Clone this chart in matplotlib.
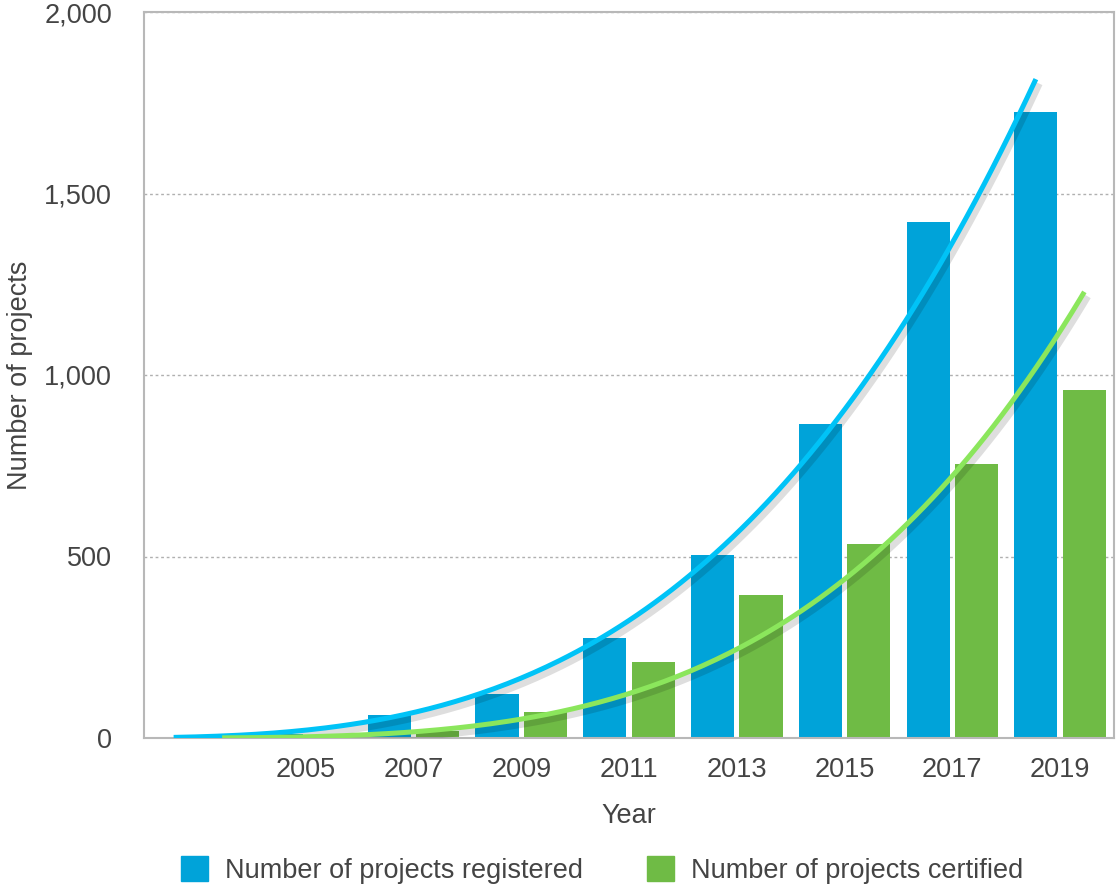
import numpy as np
import matplotlib
matplotlib.use('Agg')
import matplotlib.pyplot as plt
import matplotlib.patheffects as pe
from matplotlib.ticker import FuncFormatter, MultipleLocator
from matplotlib.patches import Patch

plt.rcParams['font.family'] = ['Liberation Sans', 'DejaVu Sans']

# yearly counts, one slot every two years
years = ['2003', '2005', '2007', '2009', '2011', '2013', '2015', '2017', '2019']
tick_labels = ['', '2005', '2007', '2009', '2011', '2013', '2015', '2017', '2019']
registered = [2, 12, 63, 121, 275, 504, 865, 1421, 1724]
certified = [0.7, 2, 19, 72, 209, 394, 534, 755, 959]

blue_bar = '#00a3d9'
green_bar = '#6fbb45'
blue_line = '#00c3f7'
green_line = '#8be65c'
text_col = '#444444'
fs = 19.5

fig = plt.figure(figsize=(11.16, 8.86), dpi=100)
ax = fig.add_axes([144 / 1116, 1 - 738 / 886, 970 / 1116, 726 / 886])

x = np.arange(len(years))
w = 0.4
off = 0.225
ax.bar(x - off, registered, w, color=blue_bar, zorder=2)
ax.bar(x + off, certified, w, color=green_bar, zorder=2)

# power trend lines (y = a * n^b, n = 1..9) for each series
shadow = [pe.SimpleLineShadow(offset=(2, -3), alpha=0.13, shadow_color='black', linewidth=6),
          pe.Normal()]
n = np.arange(1, len(years) + 1)
nn = np.linspace(1, len(years), 200)
for vals, dx, col in [(registered, -off, blue_line), (certified, off, green_line)]:
    b, loga = np.polyfit(np.log(n), np.log(vals), 1)
    ax.plot(nn - 1 + dx, np.exp(loga) * nn ** b, color=col, lw=3.6, zorder=3,
            solid_capstyle='butt', path_effects=shadow)

ax.set_xlim(-0.5, 8.5)
ax.set_ylim(0, 2000)
ax.yaxis.set_major_locator(MultipleLocator(500))
ax.yaxis.set_major_formatter(FuncFormatter(lambda v, p: f'{int(v):,}'))
ax.set_xticks(x)
ax.set_xticklabels(tick_labels)
ax.tick_params(length=0, labelsize=fs, colors=text_col)
ax.tick_params(axis='x', pad=14)
ax.tick_params(axis='y', pad=23)

ax.grid(axis='y', color='#b0b0b0', linestyle=(0, (2, 2)), lw=1, zorder=0)
for s in ax.spines.values():
    s.set_color('#b8b8b8')
    s.set_linewidth(1.5)

ax.set_xlabel('Year', fontsize=fs, color=text_col, labelpad=14)
ax.set_ylabel('Number of projects', fontsize=fs, color=text_col, labelpad=8)

handles = [Patch(color=blue_bar, label='Number of projects registered'),
           Patch(color=green_bar, label='Number of projects certified')]
fig.legend(handles=handles, loc='center', bbox_to_anchor=(602 / 1116, 1 - 870 / 886),
           ncol=2, frameon=False, fontsize=fs, handlelength=1.0, handleheight=1.0,
           handletextpad=0.63, columnspacing=2.37, labelcolor=text_col)

fig.savefig('out.png', dpi=100)
